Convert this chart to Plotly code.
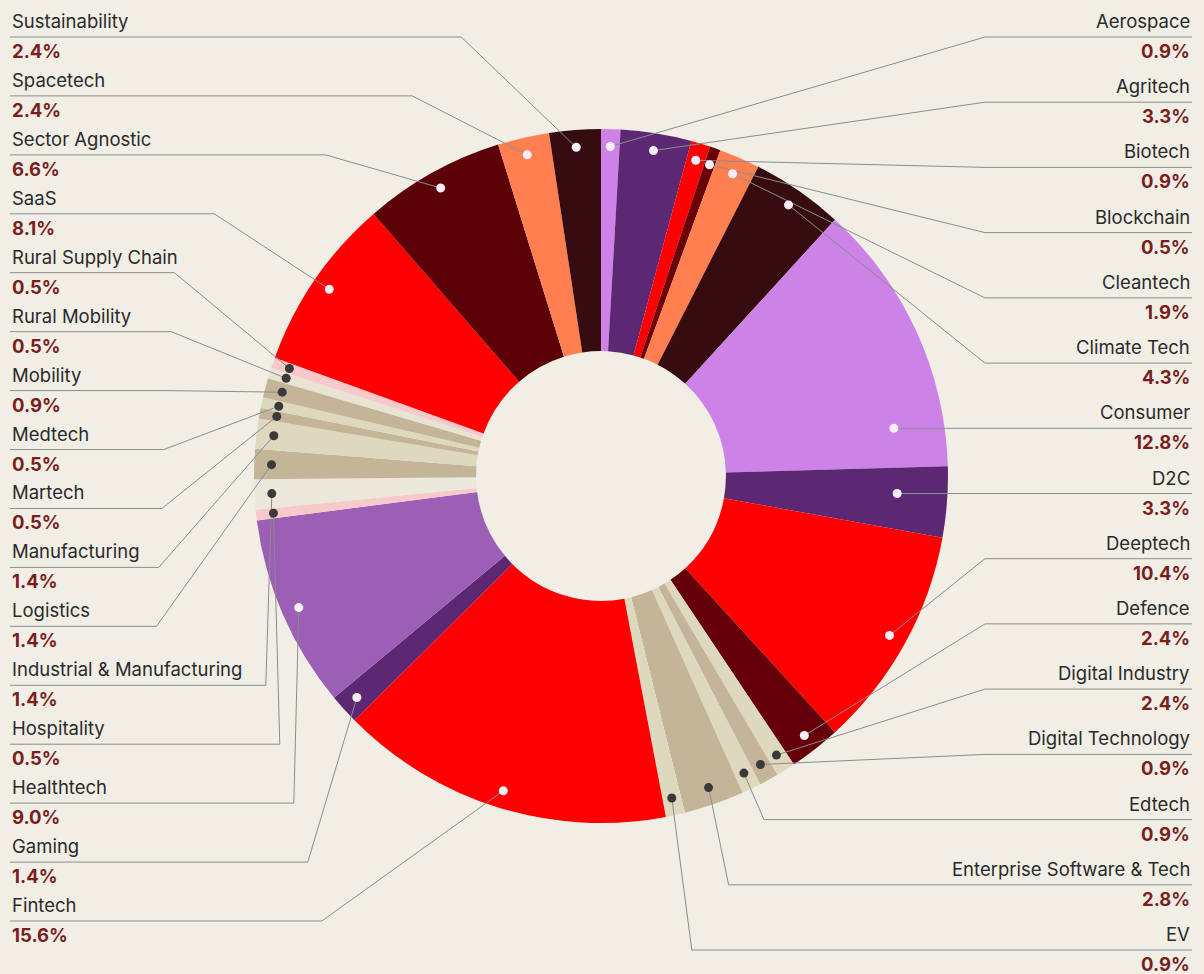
import math
import plotly.graph_objects as go

# ---------------- data ----------------
categories = [
    "Aerospace", "Agritech", "Biotech", "Blockchain", "Cleantech", "Climate Tech",
    "Consumer", "D2C", "Deeptech", "Defence", "Digital Industry", "Digital Technology",
    "Edtech", "Enterprise Software & Tech", "EV", "Fintech", "Gaming", "Healthtech",
    "Hospitality", "Industrial & Manufacturing", "Logistics", "Manufacturing", "Martech",
    "Medtech", "Mobility", "Rural Mobility", "Rural Supply Chain", "SaaS",
    "Sector Agnostic", "Spacetech", "Sustainability",
]
# share printed in each label (%)
label_share = [0.9, 3.3, 0.9, 0.5, 1.9, 4.3, 12.8, 3.3, 10.4, 2.4, 2.4, 0.9, 0.9, 2.8, 0.9,
               15.6, 1.4, 9.0, 0.5, 1.4, 1.4, 1.4, 0.5, 0.5, 0.9, 0.5, 0.5, 8.1, 6.6, 2.4, 2.4]
# share drawn as slice (the Digital Industry slice is drawn smaller than its label in the original)
slice_share = [0.9, 3.3, 0.9, 0.5, 1.9, 4.3, 12.8, 3.3, 10.4, 2.4, 0.9, 0.9, 0.9, 2.8, 0.9,
               15.6, 1.4, 9.0, 0.5, 1.4, 1.4, 1.4, 0.5, 0.5, 0.9, 0.5, 0.5, 8.1, 6.6, 2.4, 2.4]
slice_colors = [
    "#cd82e8", "#5c2874", "#ff0000", "#6a0008", "#ff7f50", "#360c10",
    "#cd82e8", "#5c2874", "#ff0000", "#660008", "#ded8bf", "#c4b598",
    "#ded8bf", "#c4b598", "#ded8bf", "#ff0000", "#5c2874", "#9b5fb5",
    "#f8c9cb", "#ece8dc", "#c4b598", "#ded8bf", "#c4b598",
    "#ded8bf", "#c4b598", "#e8e3d2", "#f8c9cb", "#ff0000",
    "#5c0008", "#ff7f50", "#360c10",
]

# ---------------- layout constants ----------------
W, H = 1204, 974
BG = "#f1eee6"
CX, CY, R = 601, 476, 347
HOLE = 0.36
R_DOT = 0.95 * R
R_DOT_FLAT = 0.855 * R
TOP_Y = 37
RIGHT_BOTTOM_Y = 950
LEFT_BOTTOM_Y = 921
LEFT_X, RIGHT_X = 10, 1192
RIGHT_GUTTER = 985
LEFT_REACH = 115
NAME_COLOR = "#2a2a2a"
PCT_COLOR = "#7a1e1e"
LINE_COLOR = "#8c8c8c"
FONT = "Inter"
FONT_SIZE = 18.5


def luminance(hexcol):
    h = hexcol.lstrip("#")
    r, g, b = (int(h[i:i + 2], 16) / 255 for i in (0, 2, 4))
    return 0.2126 * r + 0.7152 * g + 0.0722 * b


# slice angles (clockwise from 12 o'clock, as the pie draws them)
total = sum(slice_share)
starts, ends = [], []
acc = 0.0
for v in slice_share:
    starts.append(360 * acc / total)
    acc += v
    ends.append(360 * acc / total)
mids = [(a + b) / 2 for a, b in zip(starts, ends)]

right_idx = [i for i, m in enumerate(mids) if m < 180]
left_idx = [i for i, m in enumerate(mids) if m >= 180][::-1]

label_y = {}
for k, i in enumerate(right_idx):
    label_y[i] = TOP_Y + k * (RIGHT_BOTTOM_Y - TOP_Y) / (len(right_idx) - 1)
for k, i in enumerate(left_idx):
    label_y[i] = TOP_Y + k * (LEFT_BOTTOM_Y - TOP_Y) / (len(left_idx) - 1)

fig = go.Figure()

fig.add_trace(go.Pie(
    labels=categories,
    values=slice_share,
    marker=dict(colors=slice_colors, line=dict(width=0)),
    sort=False,
    direction="clockwise",
    rotation=0,
    hole=HOLE,
    textinfo="none",
    hoverinfo="label",
    showlegend=False,
    domain=dict(
        x=[(CX - R) / W, (CX + R) / W],
        y=[1 - (CY + R) / H, 1 - (CY - R) / H],
    ),
))

# invisible trace so the pixel-scaled cartesian axes exist
fig.add_trace(go.Scatter(x=[0, W], y=[0, H], mode="markers",
                         marker=dict(opacity=0), hoverinfo="skip", showlegend=False))

shapes = []
dots = []
annotations = []
for side, order in ((1, right_idx), (-1, left_idx)):
    ladder = None
    for i in order:
        name = categories[i]
        ly = label_y[i]
        th = mids[i]
        rd = R_DOT
        horizontal = False
        dy = ly - CY
        if abs(dy) < 0.2 * R:
            base = math.degrees(math.acos(max(-1, min(1, -dy / R_DOT_FLAT))))
            cand = base if side > 0 else 360 - base
            if starts[i] < cand < ends[i]:
                th = cand
                rd = R_DOT_FLAT
                horizontal = True
        t = math.radians(th)
        dx_, dy_ = CX + rd * math.sin(t), CY - rd * math.cos(t)
        end_x = RIGHT_X if side > 0 else LEFT_X
        if horizontal:
            pts = [(dx_, dy_), (end_x, ly)]
        else:
            if dy_ > CY and ly > dy_ + 5:
                # labels hanging below their slice drop almost straight down
                if side > 0:
                    ex = dx_ + 20
                else:
                    ex = dx_ - 6 if ladder is None else ladder + 14
                    ladder = ex
            elif side > 0:
                ex = max(RIGHT_GUTTER, dx_ + 40)
            else:
                ex = dx_ - LEFT_REACH
            pts = [(dx_, dy_), (ex, ly), (end_x, ly)]
        path = "M " + " L ".join(f"{x:.1f},{y:.1f}" for x, y in pts)
        shapes.append(dict(type="path", path=path, xref="x", yref="y",
                           line=dict(color=LINE_COLOR, width=1), layer="above"))
        dot_col = "#3a3a3a" if luminance(slice_colors[i]) > 0.65 else "#f7eef7"
        dots.append(dict(type="circle", xref="x", yref="y", xsizemode="pixel", ysizemode="pixel",
                         xanchor=dx_, yanchor=dy_, x0=-4.5, x1=4.5, y0=-4.5, y1=4.5,
                         fillcolor=dot_col, line=dict(width=0), layer="above"))
        anchor = "left" if side < 0 else "right"
        annotations.append(dict(x=end_x, y=ly - 16, xref="x", yref="y", text=name,
                                showarrow=False, xanchor=anchor, yanchor="middle",
                                font=dict(family=FONT, size=FONT_SIZE, color=NAME_COLOR)))
        annotations.append(dict(x=end_x, y=ly + 14, xref="x", yref="y",
                                text=f"{label_share[i]:.1f}%",
                                showarrow=False, xanchor=anchor, yanchor="middle",
                                font=dict(family=FONT, size=FONT_SIZE, color=PCT_COLOR, weight=700)))

fig.update_layout(
    width=W, height=H,
    margin=dict(l=0, r=0, t=0, b=0),
    paper_bgcolor=BG, plot_bgcolor="rgba(0,0,0,0)",
    showlegend=False,
    xaxis=dict(range=[0, W], visible=False, fixedrange=True, domain=[0, 1]),
    yaxis=dict(range=[H, 0], visible=False, fixedrange=True, domain=[0, 1]),
    shapes=shapes + dots,
    annotations=annotations,
)

fig.write_html("out.html")
